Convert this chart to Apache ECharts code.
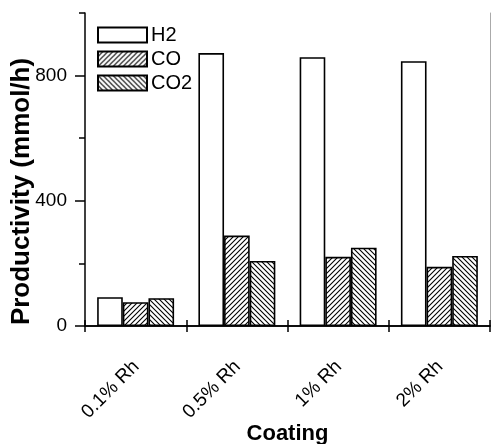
<!DOCTYPE html>
<html>
<head>
<meta charset="utf-8">
<script src="https://cdn.jsdelivr.net/npm/echarts@6/dist/echarts.min.js"></script>
<style>
html,body{margin:0;padding:0;background:#fff;}
#c{width:491px;height:444px;}
</style>
</head>
<body>
<div id="c"></div>
<script>
var categories = ['0.1% Rh', '0.5% Rh', '1% Rh', '2% Rh'];
var h2Values = [92, 872, 859, 846];
var coValues = [76, 289, 221, 189];
var co2Values = [89, 208, 250, 224];
var yLabelTicks = [0, 400, 800];
var yMinorTicks = [200, 600, 1000];

function hatch(forward) {
  var s = 5;
  var cv = document.createElement('canvas');
  cv.width = s; cv.height = s;
  var ctx = cv.getContext('2d');
  ctx.fillStyle = '#fff';
  ctx.fillRect(0, 0, s, s);
  ctx.strokeStyle = '#000';
  ctx.lineWidth = 1.1;
  ctx.beginPath();
  if (forward) {
    ctx.moveTo(-1, s + 1); ctx.lineTo(s + 1, -1);
    ctx.moveTo(-1, 1); ctx.lineTo(1, -1);
    ctx.moveTo(s - 1, s + 1); ctx.lineTo(s + 1, s - 1);
  } else {
    ctx.moveTo(-1, -1); ctx.lineTo(s + 1, s + 1);
    ctx.moveTo(s - 1, -1); ctx.lineTo(s + 1, 1);
    ctx.moveTo(-1, s - 1); ctx.lineTo(1, s + 1);
  }
  ctx.stroke();
  return cv;
}

var font = 'Liberation Sans, Arial, sans-serif';
var chart = echarts.init(document.getElementById('c'));
var barBorder = { borderColor: '#000', borderWidth: 1.6 };

chart.setOption({
  animation: false,
  backgroundColor: '#fff',
  textStyle: { fontFamily: font },
  grid: { left: 85, right: 1, top: 13, bottom: 118, containLabel: false, outerBoundsMode: 'none' },
  legend: {
    orient: 'vertical', left: 92, top: 20, icon: 'rect',
    itemWidth: 49, itemHeight: 15, itemGap: 4,
    textStyle: { fontSize: 20, color: '#000', fontFamily: font, padding: [0, 0, 0, -1] },
    data: ['H2', 'CO', 'CO2']
  },
  xAxis: [
    {
      type: 'category', data: categories, position: 'bottom',
      axisLine: { lineStyle: { color: '#000', width: 1.5 } },
      axisTick: { show: true, length: 6, interval: 0, lineStyle: { color: '#000', width: 1.5 } },
      axisLabel: {
        rotate: 45, interval: 0, fontSize: 19, color: '#000', fontFamily: font,
        align: 'right', verticalAlign: 'top', margin: 25, padding: [0, 8.5, 0, 0]
      },
      name: 'Coating', nameLocation: 'middle', nameGap: 97, nameMoveOverlap: false,
      nameTextStyle: { fontSize: 22, fontWeight: 'bold', color: '#000', fontFamily: font }
    },
    {
      type: 'category', data: categories, position: 'bottom',
      axisLine: { show: false },
      axisTick: { show: true, inside: true, length: 6, interval: 0, lineStyle: { color: '#000', width: 1.5 } },
      axisLabel: { show: false }
    },
    {
      type: 'category', data: categories, position: 'top',
      axisLine: { lineStyle: { color: '#000', width: 1.5 } },
      axisTick: { show: false }, axisLabel: { show: false }
    }
  ],
  yAxis: [
    {
      type: 'value', min: 0, max: 1000, interval: 200, position: 'left',
      splitLine: { show: false },
      axisLine: { show: true, lineStyle: { color: '#000', width: 1.5 } },
      axisTick: { show: true, length: 10, customValues: yLabelTicks, lineStyle: { color: '#000', width: 1.5 } },
      axisLabel: { customValues: yLabelTicks, fontSize: 19, color: '#000', fontFamily: font, margin: 18 }
    },
    {
      type: 'value', min: 0, max: 1000, interval: 200, position: 'left',
      splitLine: { show: false },
      axisLine: { show: false },
      axisTick: { show: true, length: 6, customValues: yMinorTicks, lineStyle: { color: '#000', width: 1.5 } },
      axisLabel: { show: false }
    },
    {
      type: 'value', min: 0, max: 1000, interval: 200, position: 'right',
      splitLine: { show: false },
      axisLine: { show: true, lineStyle: { color: '#aaa', width: 1 } },
      axisTick: { show: false }, axisLabel: { show: false }
    }
  ],
  series: [
    {
      name: 'H2', type: 'bar', data: h2Values, barGap: '0%', barCategoryGap: '24%',
      itemStyle: Object.assign({ color: '#fff' }, barBorder)
    },
    {
      name: 'CO', type: 'bar', data: coValues, barGap: '0%', barCategoryGap: '24%',
      itemStyle: Object.assign({ color: { image: hatch(true), repeat: 'repeat' } }, barBorder)
    },
    {
      name: 'CO2', type: 'bar', data: co2Values, barGap: '0%', barCategoryGap: '24%',
      itemStyle: Object.assign({ color: { image: hatch(false), repeat: 'repeat' } }, barBorder)
    }
  ],
  graphic: [
    {
      type: 'text', x: 21.5, y: 191.5, rotation: Math.PI / 2,
      style: {
        text: 'Productivity (mmol/h)', fill: '#000',
        font: 'bold 26px ' + font, textAlign: 'center', textVerticalAlign: 'middle'
      }
    }
  ]
});
</script>
</body>
</html>
